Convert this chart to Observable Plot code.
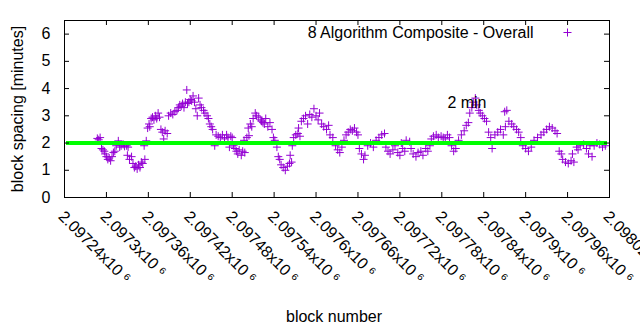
<!DOCTYPE html>
<html>
<head>
<meta charset="utf-8">
<script src="https://cdn.jsdelivr.net/npm/d3@7"></script>
<script src="https://cdn.jsdelivr.net/npm/@observablehq/plot@0.6"></script>
<style>
  html, body { margin: 0; padding: 0; background: #fff; }
  #chart { width: 640px; height: 330px; }
</style>
</head>
<body>
<div id="chart"></div>
<script>
// ---- data ----
const blocks = [
2097287,2097289,2097291,
2097293,2097295,2097297,2097298,
2097300,2097302,2097304,2097306,2097308,
2097310,2097312,
2097314,2097317,2097319,2097321,2097324,2097326,2097329,2097331,
2097330,2097333,2097336,
2097338,2097340,2097342,2097344,2097346,2097348,2097350,2097352,2097355,
2097354,2097357,
2097359,2097361,2097362,
2097364,2097366,2097368,2097370,2097372,2097374,2097376,
2097378,2097380,2097382,2097384,2097387,
2097389,2097392,2097395,2097398,2097401,
2097403,2097405,2097407,2097409,2097411,2097413,2097415,2097416,
2097418,2097420,2097422,2097424,2097426,2097428,2097430,2097432,2097434,
2097436,2097439,2097441,2097444,
2097446,2097448,2097450,2097452,
2097455,2097457,2097460,2097463,2097466,2097469,
2097472,2097474,2097476,2097478,2097480,
2097482,2097484,2097486,2097488,2097490,2097493,2097495,2097498,
2097497,2097501,2097504,
2097503,2097506,2097508,
2097510,2097513,2097515,2097518,2097521,2097524,
2097522,2097526,2097528,2097531,2097534,2097537,
2097539,2097541,
2097544,2097546,2097548,
2097550,2097553,2097556,2097559,2097562,2097565,
2097563,2097566,
2097568,2097571,2097574,2097577,
2097575,
2097579,2097582,2097585,2097588,2097591,2097594,2097597,2097600,2097603,2097605,
2097608,2097611,2097615,2097618,
2097620,2097624,
2097628,2097631,2097634,2097637,
2097640,2097643,2097646,2097649,2097652,2097655,2097658,2097660,
2097662,2097665,2097668,2097670,
2097674,2097678,2097682,
2097686,2097690,2097694,2097698,
2097700,2097703,2097706,2097710,2097713,2097717,2097720,2097724,2097727,
2097722,2097729,2097734,
2097736,2097739,2097743,2097746,2097750,2097753,2097757,2097760,2097763,
2097765,2097768,2097772,2097775,2097779,2097782,2097785,2097788,2097791,
2097794,2097797,2097800,
2097804,2097808,2097812,
2097815,2097818,
2097820,2097823,2097825,2097828,2097830,2097833,2097835,
2097838,2097841,2097844,
2097847,2097850,2097852,
2097856,2097860,2097864,2097868,2097871,
2097870,2097873,
2097876,2097880,2097883,2097887,2097890,2097893,
2097896,2097900,2097904,2097908,
2097912,2097917,
2097922,2097926,2097930,2097934,2097938,2097942,2097945,
2097948,2097951,
2097953,2097957,2097961,2097965,2097969,
2097967,2097975,
2097973,2097978,2097983,2097987,2097992,
2097990,2097995,
2097998,2098002,2098006,2098010,2098014
];
const minutes = [
2.17,2.12,2.2,
1.8,1.75,1.7,1.6,
1.5,1.4,1.45,1.35,1.5,
1.65,1.7,
1.9,2.08,1.85,1.9,1.95,1.88,1.9,1.85,
1.55,1.4,1.5,
1.25,1.1,1.15,1.05,1.2,1.1,1.3,1.25,1.4,
1.9,2.08,
2.55,2.7,2.6,
2.9,2.95,2.85,3.0,2.9,3.1,2.95,
2.5,2.4,2.15,2.45,2.35,
3.0,3.1,3.05,3.15,3.2,
3.3,3.4,3.35,3.45,3.3,3.5,3.95,3.45,
3.5,3.6,3.55,3.73,3.5,3.26,3.0,3.65,3.4,
3.3,3.2,3.1,3.0,
2.9,2.7,2.6,2.5,
1.9,2.3,2.25,2.2,2.3,2.15,
2.3,2.2,1.85,2.25,2.2,
1.9,1.8,1.7,1.6,1.75,1.55,1.7,1.65,
2.1,2.2,2.27,
2.55,2.7,2.6,
2.9,3.1,3.0,2.95,2.85,2.75,
2.8,2.7,2.9,2.6,2.75,2.5,
2.2,2.1,
1.85,1.5,1.4,
1.2,1.1,1.0,1.15,1.25,1.3,
1.55,1.9,
2.2,2.3,2.35,2.25,
2.55,
2.8,2.9,3.0,2.7,3.05,2.95,3.26,3.0,2.85,3.1,
2.7,2.6,2.5,2.65,
2.3,2.2,
1.9,1.75,1.65,1.85,
2.1,2.3,2.4,2.5,2.45,2.55,2.4,2.3,
1.8,1.6,1.4,1.55,
1.9,2.0,1.85,
2.1,2.2,2.3,2.35,
1.85,1.7,1.6,1.75,1.9,1.65,1.55,1.8,1.7,
2.0,2.1,2.05,
1.8,1.6,1.5,1.65,1.7,1.55,1.8,1.7,1.9,
2.15,2.25,2.3,2.2,2.25,2.2,2.15,2.3,2.2,
1.9,1.7,1.8,
2.1,2.3,2.45,
2.65,2.75,
3.1,3.3,3.5,3.65,3.4,3.2,3.1,
3.0,2.9,2.8,
2.4,2.2,1.8,
2.3,2.4,2.5,2.3,2.6,
3.15,3.2,
2.8,2.7,2.6,2.5,2.4,2.2,
1.9,1.8,1.7,1.85,
2.1,2.2,
2.3,2.4,2.5,2.6,2.55,2.45,2.35,
1.7,1.6,
1.4,1.3,1.25,1.35,1.3,
1.6,1.75,
1.85,1.9,1.95,1.8,1.9,
1.6,1.5,
1.9,2.0,1.95,1.85,1.9
];
const targetMinutes = [2];
const xTicks = [2097240,2097300,2097360,2097420,2097480,2097540,2097600,2097660,2097720,2097780,2097840,2097900,2097960,2098020];
const xTickLabels = ["2.09724x10","2.0973x10","2.09736x10","2.09742x10","2.09748x10","2.09754x10","2.0976x10","2.09766x10","2.09772x10","2.09778x10","2.09784x10","2.0979x10","2.09796x10","2.09802x10"];
const xTickExponent = "\u2076"; // superscript 6
const yTicks = [0,1,2,3,4,5,6];
const seriesLabel = ["8 Algorithm Composite - Overall"];
const annotationText = ["2 min"];
const annotationBlock = [2097788];
const annotationMinutes = [3.48];
const xLabel = ["block number"];
const yLabel = ["block spacing [minutes]"];

// ---- chart ----
const W = 640, H = 330;
const mL = 64, mR = 31, mT = 20, mB = 133;
const plotW = W - mL - mR, plotH = H - mT - mB;
const tick = 5;
const purple = "#9400d3";
const font = "'Liberation Sans', Arial, sans-serif";

const chart = Plot.plot({
  width: W, height: H,
  marginLeft: mL, marginRight: mR, marginTop: mT, marginBottom: mB,
  style: { fontFamily: font, fontSize: "16px", color: "#000", background: "#fff", overflow: "visible" },
  x: { domain: [2097240, 2098020], axis: null },
  y: { domain: [0, 6.5], axis: null },
  marks: [
    // data points
    Plot.dot(blocks, { x: blocks, y: minutes, symbol: "plus", r: 2.7, stroke: purple, strokeWidth: 1 }),
    // 2-minute target line
    Plot.ruleY(targetMinutes, { stroke: "#00ff00", strokeWidth: 4, insetLeft: 2, insetRight: 2 }),
    // frame
    Plot.frame({ stroke: "#000", strokeWidth: 1 }),
    // inward ticks (gnuplot mirror style)
    Plot.ruleY(yTicks, { y: d => d, insetRight: plotW - tick, stroke: "#000" }),
    Plot.ruleY(yTicks, { y: d => d, insetLeft: plotW - tick, stroke: "#000" }),
    Plot.ruleX(xTicks, { x: d => d, insetTop: plotH - tick, stroke: "#000" }),
    Plot.ruleX(xTicks, { x: d => d, insetBottom: plotH - tick, stroke: "#000" }),
    // y tick labels
    Plot.text(yTicks, { y: d => d, text: d => String(d), frameAnchor: "left", textAnchor: "end", lineAnchor: "middle", dx: -14, fill: "#000" }),
    // x tick labels (rotated)
    Plot.text(xTicks, { x: d => d, text: (d, i) => xTickLabels[i] + " " + xTickExponent, frameAnchor: "bottom", rotate: 45, textAnchor: "start", lineAnchor: "top", dx: 1, dy: 12, fill: "#000" }),
    // axis titles
    Plot.text(xLabel, { text: d => d, frameAnchor: "bottom", textAnchor: "middle", lineAnchor: "middle", dy: 119, dx: -3, fill: "#000" }),
    Plot.text(yLabel, { text: d => d, frameAnchor: "left", textAnchor: "middle", lineAnchor: "middle", rotate: -90, dx: -47, fill: "#000" }),
    // key
    Plot.text(seriesLabel, { text: d => d, frameAnchor: "top-right", textAnchor: "end", lineAnchor: "middle", dx: -76, dy: 12, fill: "#000" }),
    Plot.dot(seriesLabel, { frameAnchor: "top-right", dx: -42, dy: 12, symbol: "plus", r: 2.7, stroke: purple, strokeWidth: 1 }),
    // annotation
    Plot.text(annotationText, { x: annotationBlock, y: annotationMinutes, text: d => d, textAnchor: "start", lineAnchor: "middle", fill: "#000" })
  ]
});
document.getElementById("chart").appendChild(chart);
</script>
</body>
</html>
